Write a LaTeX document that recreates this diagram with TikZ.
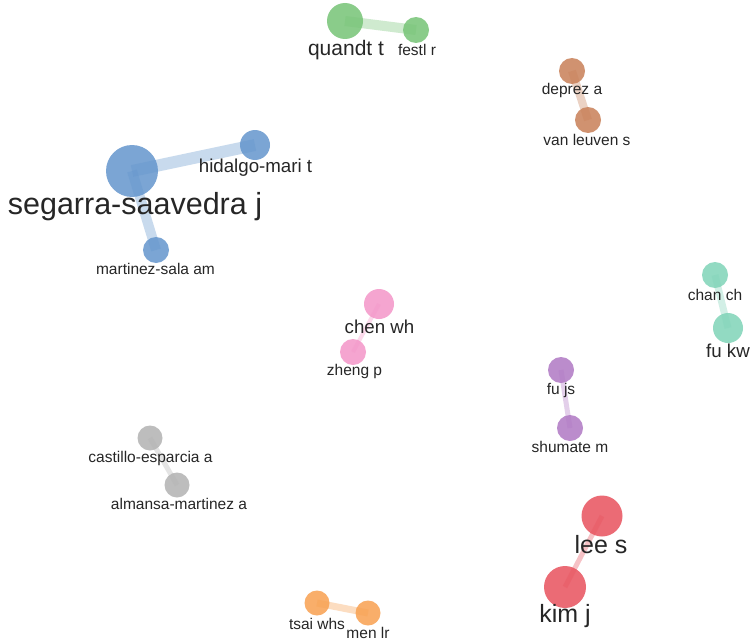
\documentclass[tikz,border=0pt]{standalone}
\usepackage{fontspec}
\setmainfont{Liberation Sans}
\begin{document}
\begin{tikzpicture}[x=1pt,y=-1pt,
  dot/.style={circle,inner sep=0pt,draw=none,fill opacity=0.85},
  lnk/.style={line cap=butt,draw opacity=0.35},
  lab/.style={inner sep=0pt,text=black!85,anchor=center},
  fs/.style={font=\fontsize{15.5}{17}\selectfont},
  fm/.style={font=\fontsize{18.7}{21}\selectfont},
  fl/.style={font=\fontsize{21}{24}\selectfont},
  fx/.style={font=\fontsize{25}{28}\selectfont},
  fxx/.style={font=\fontsize{30.5}{34}\selectfont}]
\definecolor{cblue}{RGB}{100,150,205}
\definecolor{cgreen}{RGB}{118,196,118}
\definecolor{cbrown}{RGB}{200,128,88}
\definecolor{cteal}{RGB}{128,212,184}
\definecolor{cpink}{RGB}{244,150,200}
\definecolor{cpurple}{RGB}{176,120,196}
\definecolor{cgray}{RGB}{178,178,178}
\definecolor{cred}{RGB}{232,82,94}
\definecolor{corange}{RGB}{248,160,80}
\fill[white] (0,0) rectangle (752,642);
\useasboundingbox (0,0) rectangle (752,642);
% nodes
\node[dot,fill=cblue,minimum size=52pt] (seg) at (132,171) {};
\node[dot,fill=cblue,minimum size=30pt] (hid) at (255,145) {};
\node[dot,fill=cblue,minimum size=26pt] (mar) at (156,250) {};
\node[dot,fill=cgreen,minimum size=36pt] (qua) at (345,21) {};
\node[dot,fill=cgreen,minimum size=26pt] (fes) at (416,30) {};
\node[dot,fill=cbrown,minimum size=26pt] (dep) at (572,71) {};
\node[dot,fill=cbrown,minimum size=26pt] (van) at (588,120) {};
\node[dot,fill=cteal,minimum size=26pt] (cha) at (715,275) {};
\node[dot,fill=cteal,minimum size=30pt] (fkw) at (728,328) {};
\node[dot,fill=cpink,minimum size=30pt] (che) at (379,304) {};
\node[dot,fill=cpink,minimum size=26pt] (zhe) at (353,352) {};
\node[dot,fill=cpurple,minimum size=26pt] (fjs) at (561,370) {};
\node[dot,fill=cpurple,minimum size=26pt] (shu) at (570,428) {};
\node[dot,fill=cgray,minimum size=25pt] (cas) at (150,438) {};
\node[dot,fill=cgray,minimum size=25pt] (alm) at (177,485) {};
\node[dot,fill=cred,minimum size=41pt] (lee) at (602,516) {};
\node[dot,fill=cred,minimum size=42pt] (kim) at (565,587) {};
\node[dot,fill=corange,minimum size=25pt] (tsa) at (317,603) {};
\node[dot,fill=corange,minimum size=25pt] (men) at (368,613) {};
% links
\draw[lnk,cblue,line width=12pt] (seg.center) -- (hid.center);
\draw[lnk,cblue,line width=10pt] (seg.center) -- (mar.center);
\draw[lnk,cgreen,line width=10pt] (qua.center) -- (fes.center);
\draw[lnk,cbrown,line width=8pt] (dep.center) -- (van.center);
\draw[lnk,cteal,line width=7pt] (cha.center) -- (fkw.center);
\draw[lnk,cpink,line width=4pt] (che.center) -- (zhe.center);
\draw[lnk,cpurple,line width=5pt] (fjs.center) -- (shu.center);
\draw[lnk,cgray,line width=5pt] (cas.center) -- (alm.center);
\draw[lnk,cred,line width=5pt] (lee.center) -- (kim.center);
\draw[lnk,corange,line width=7pt] (tsa.center) -- (men.center);
% labels
\node[lab,fxx] (lseg) at (135,207) {segarra-saavedra j};
\node[lab,fm] (lhid) at (255.5,168) {hidalgo-mari t};
\node[lab,fs] (lmar) at (155.5,269) {martinez-sala am};
\node[lab,fl] (lqua) at (346,50) {quandt t};
\node[lab,fs] (lfes) at (417,50) {festl r};
\node[lab,fs] (ldep) at (572,90) {deprez a};
\node[lab,fs] (lvan) at (587,140) {van leuven s};
\node[lab,fs] (lcha) at (715,295) {chan ch};
\node[lab,fm] (lfkw) at (728,351) {fu kw};
\node[lab,fm] (lche) at (379.5,327) {chen wh};
\node[lab,fs] (lzhe) at (354.5,371) {zheng p};
\node[lab,fs] (lfjs) at (561,390) {fu js};
\node[lab,fs] (lshu) at (570,447) {shumate m};
\node[lab,fs] (lcas) at (150.5,458) {castillo-esparcia a};
\node[lab,fs] (lalm) at (179,504) {almansa-martinez a};
\node[lab,fx] (llee) at (601,545) {lee s};
\node[lab,fx] (lkim) at (565,616) {kim j};
\node[lab,fs] (ltsa) at (317,624) {tsai whs};
\node[lab,fs] (lmen) at (368,633) {men lr};
\end{tikzpicture}
\end{document}
